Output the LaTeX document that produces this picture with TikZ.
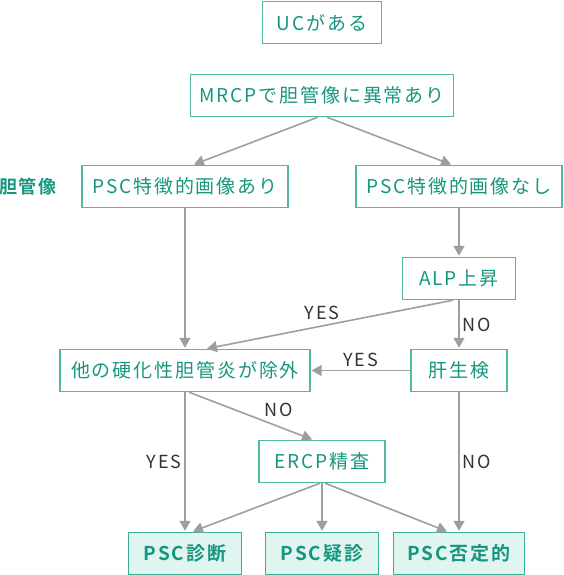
\documentclass[tikz,border=0pt]{standalone}
\usepackage{fontspec}
\setmainfont[LetterSpace=10, BoldFont={Noto Sans CJK JP Bold}]{Noto Sans CJK JP}
\usepackage{tikz}
\usetikzlibrary{positioning,arrows.meta}

\definecolor{boxline}{HTML}{52B8A6}
\definecolor{tealtext}{HTML}{16967F}
\definecolor{resfill}{HTML}{E0F5EF}
\definecolor{resline}{HTML}{3AAE98}
\definecolor{arrowgray}{HTML}{9E9E9E}
\definecolor{yntext}{HTML}{333333}

\begin{document}
\begin{tikzpicture}[x=1pt, y=1pt, shorten >=1pt, node distance=91pt, on grid, auto,
    box/.style={draw=boxline, line width=1.4pt, text=tealtext, minimum height=42pt,
        inner sep=0pt, font=\fontsize{19}{21}\selectfont},
    result/.style={box, draw=resline, fill=resfill, font=\fontsize{19}{21}\selectfont\bfseries},
    yn/.style={text=yntext, font=\fontsize{18}{20}\selectfont, inner sep=3pt},
    every edge/.style={draw=arrowgray, line width=1.6pt, -{Triangle[length=10pt,width=11pt]}}]
    \useasboundingbox (0,0) rectangle (563,-575);
    \node[box, minimum width=119pt] (uc) at (322,-22.5) {UCがある};
    \node[box, minimum width=263pt] (mrcp) [below=73pt of uc] {MRCPで胆管像に異常あり};
    \node[box, minimum width=206pt] (ari) [below left=91pt and 137pt of mrcp] {PSC特徴的画像あり};
    \node[box, minimum width=206pt] (nashi) [below right=91pt and 137pt of mrcp] {PSC特徴的画像なし};
    \node[text=tealtext, font=\fontsize{18}{20}\selectfont\bfseries] (tankan) [left=157pt of ari] {胆管像};
    \node[box, minimum width=113pt] (alp) [below=92pt of nashi] {ALP上昇};
    \node[box, minimum width=250pt] (jogai) [below=184pt of ari] {他の硬化性胆管炎が除外};
    \node[box, minimum width=96pt] (kanseiken) [below=92pt of alp] {肝生検};
    \node[box, minimum width=126pt] (ercp) [below right=91pt and 137pt of jogai] {ERCP精査};
    \node[result, minimum width=113pt] (shindan) [below=183pt of jogai] {PSC診断};
    \node[result, minimum width=113pt] (gishin) [below=92pt of ercp] {PSC疑診};
    \node[result, minimum width=131pt] (hitei) [below=183pt of kanseiken] {PSC否定的};
    \path
     ([xshift=-4pt]mrcp.south) edge ([xshift=8pt]ari.north)
     ([xshift=5pt]mrcp.south) edge ([xshift=-7pt]nashi.north)
     (ari) edge (jogai)
     (nashi) edge (alp)
     ([xshift=-6pt]alp.south) edge node[yn, pos=0.53, above=2pt] {YES} ([xshift=21pt]jogai.north)
     (alp) edge node[yn, right] {NO} (kanseiken)
     (kanseiken) edge node[yn, above] {YES} (jogai)
     (jogai) edge node[yn, left] {YES} (shindan)
     ([xshift=4pt]jogai.south) edge node[yn, pos=0.72, above=6pt] {NO} ([xshift=-9pt]ercp.north)
     (kanseiken) edge node[yn, right] {NO} (hitei)
     ([xshift=-2pt]ercp.south) edge ([xshift=7pt]shindan.north)
     (ercp) edge (gishin)
     ([xshift=3pt]ercp.south) edge ([xshift=-11pt]hitei.north);
\end{tikzpicture}
\end{document}
